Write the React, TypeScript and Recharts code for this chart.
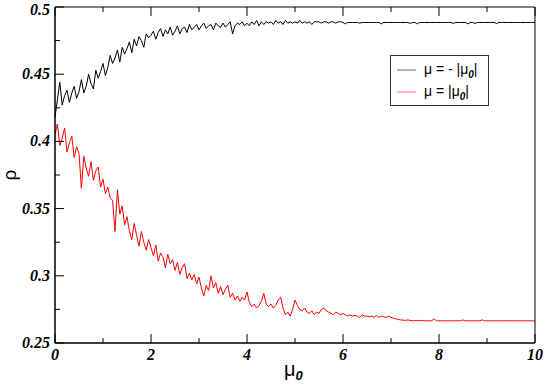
import React from 'react';
import { LineChart, Line, XAxis, YAxis } from 'recharts';

// mu_0 runs from 0 to 10 in steps of 0.05
const MU_STEP = 0.05;

// rho for mu = -|mu_0| (black)
const rhoNeg = [
  0.418, 0.431, 0.444, 0.427, 0.434, 0.438, 0.429, 0.436, 0.441, 0.432,
  0.437, 0.446, 0.436, 0.441, 0.450, 0.443, 0.439, 0.453, 0.447, 0.452,
  0.458, 0.449, 0.455, 0.464, 0.458, 0.462, 0.468, 0.459, 0.470, 0.465,
  0.469, 0.474, 0.466, 0.476, 0.471, 0.478, 0.475, 0.470, 0.480, 0.477,
  0.479, 0.482, 0.476, 0.481, 0.484, 0.478, 0.483, 0.480, 0.485, 0.479,
  0.482, 0.486, 0.480, 0.484, 0.485, 0.481, 0.487, 0.483, 0.485, 0.487,
  0.483, 0.486, 0.488, 0.484, 0.486, 0.487, 0.483, 0.488, 0.486, 0.485,
  0.488, 0.485, 0.487, 0.489, 0.480, 0.486, 0.488, 0.487, 0.489, 0.486,
  0.488, 0.486, 0.489, 0.487, 0.490, 0.486, 0.489, 0.487, 0.489, 0.488,
  0.489, 0.487, 0.490, 0.488, 0.489, 0.487, 0.490, 0.488, 0.489, 0.488,
  0.489, 0.488, 0.490, 0.488, 0.489, 0.488, 0.489, 0.487, 0.489, 0.489,
  0.489, 0.488, 0.489, 0.489, 0.488, 0.489, 0.489, 0.488, 0.489, 0.489,
  0.4885, 0.4875, 0.4885, 0.4885, 0.4885, 0.4885, 0.4885, 0.488, 0.4885, 0.4885,
  0.4885, 0.4885, 0.4885, 0.4885, 0.4885, 0.4885, 0.4875, 0.4885, 0.4885, 0.4885,
  0.4885, 0.4885, 0.4885, 0.4885, 0.4885, 0.4885, 0.4885, 0.4885, 0.4878, 0.4885,
  0.4885, 0.4875, 0.4885, 0.4885, 0.4885, 0.4885, 0.4885, 0.4885, 0.4885, 0.4885,
  0.4885, 0.4885, 0.4885, 0.4885, 0.4885, 0.4885, 0.4878, 0.4885, 0.4885, 0.4885,
  0.4885, 0.4885, 0.4875, 0.4885, 0.4885, 0.4878, 0.4885, 0.4885, 0.4885, 0.4885,
  0.4885, 0.4885, 0.4885, 0.4885, 0.4877, 0.4885, 0.4885, 0.4885, 0.4885, 0.4885,
  0.4885, 0.4885, 0.4885, 0.4885, 0.4885, 0.4885, 0.4885, 0.4885, 0.4885, 0.4885,
  0.4885,
];

// rho for mu = |mu_0| (red)
const rhoPos = [
  0.405, 0.413, 0.397, 0.402, 0.410, 0.392, 0.399, 0.404, 0.388, 0.396,
  0.391, 0.365, 0.389, 0.380, 0.374, 0.385, 0.371, 0.378, 0.381, 0.366,
  0.372, 0.361, 0.366, 0.358, 0.356, 0.333, 0.364, 0.346, 0.352, 0.338,
  0.344, 0.333, 0.327, 0.339, 0.330, 0.322, 0.333, 0.325, 0.319, 0.327,
  0.321, 0.315, 0.323, 0.311, 0.317, 0.314, 0.306, 0.316, 0.309, 0.312,
  0.304, 0.310, 0.301, 0.306, 0.309, 0.298, 0.302, 0.297, 0.301, 0.294,
  0.299, 0.291, 0.285, 0.293, 0.289, 0.300, 0.291, 0.295, 0.287, 0.292,
  0.286, 0.290, 0.293, 0.284, 0.287, 0.282, 0.285, 0.281, 0.284, 0.282,
  0.288, 0.280, 0.277, 0.279, 0.276, 0.278, 0.281, 0.287, 0.279, 0.277,
  0.279, 0.276, 0.278, 0.282, 0.284, 0.276, 0.271, 0.273, 0.270, 0.275,
  0.282, 0.278, 0.275, 0.274, 0.276, 0.273, 0.272, 0.274, 0.271, 0.273,
  0.272, 0.275, 0.276, 0.274, 0.273, 0.272, 0.271, 0.273, 0.272, 0.271,
  0.272, 0.271, 0.270, 0.271, 0.270, 0.2705, 0.270, 0.269, 0.271, 0.270,
  0.270, 0.2695, 0.270, 0.269, 0.2705, 0.269, 0.270, 0.2695, 0.269, 0.270,
  0.269, 0.2685, 0.268, 0.2675, 0.2672, 0.267, 0.2668, 0.2672, 0.2668, 0.2666,
  0.2666, 0.2668, 0.2665, 0.2667, 0.2665, 0.2666, 0.2665, 0.2666, 0.268, 0.2665,
  0.2665, 0.2665, 0.2665, 0.2665, 0.2665, 0.2665, 0.2665, 0.2665, 0.2665, 0.2665,
  0.2672, 0.2665, 0.2665, 0.2665, 0.2665, 0.2665, 0.2665, 0.2665, 0.2672, 0.2665,
  0.2665, 0.2665, 0.2665, 0.2665, 0.2665, 0.2665, 0.2665, 0.2665, 0.2665, 0.2665,
  0.2665, 0.2665, 0.2665, 0.2665, 0.2665, 0.2665, 0.2665, 0.2665, 0.2665, 0.2665,
  0.2665,
];

const xTicks = [0, 1, 2, 3, 4, 5, 6, 7, 8, 9, 10];
const yTicks = [0.25, 0.275, 0.3, 0.325, 0.35, 0.375, 0.4, 0.425, 0.45, 0.475, 0.5];

const seriesKeys = ['neg', 'pos'];
const seriesColors = ['#000000', '#ff0000'];
const legendPrefix = ['\u03bc = - |\u03bc', '\u03bc = |\u03bc'];

const data = rhoNeg.map((v, i) => ({
  mu: Math.round(i * MU_STEP * 100) / 100,
  neg: v,
  pos: rhoPos[i],
}));

const tickFont = {
  fontFamily: '"Liberation Serif", "Times New Roman", serif',
  fontWeight: 'bold' as const,
  fontStyle: 'italic' as const,
  fontSize: 16,
  fill: '#000',
};

const isMajorX = (v: number) => v % 2 === 0;
const isMajorY = (v: number) => Math.round(v * 1000) % 50 === 0;

const BottomTick = ({ x, y, payload }: any) => {
  const major = isMajorX(payload.value);
  return (
    <g>
      <line x1={x} y1={y} x2={x} y2={y - (major ? 9 : 5)} stroke="#000" />
      {major && (
        <text x={x} y={y + 17} textAnchor="middle" {...tickFont}>
          {payload.value}
        </text>
      )}
    </g>
  );
};

const TopTick = ({ x, y, payload }: any) => {
  const major = isMajorX(payload.value);
  return <line x1={x} y1={y} x2={x} y2={y + (major ? 9 : 5)} stroke="#000" />;
};

const LeftTick = ({ x, y, payload }: any) => {
  const major = isMajorY(payload.value);
  // keep the top label inside the picture
  const ty = Math.max(y + 5, 15);
  return (
    <g>
      <line x1={x} y1={y} x2={x + (major ? 9 : 5)} y2={y} stroke="#000" />
      {major && (
        <text x={x - 5} y={ty} textAnchor="end" {...tickFont}>
          {String(Number(payload.value.toFixed(3)))}
        </text>
      )}
    </g>
  );
};

const RightTick = ({ x, y, payload }: any) => {
  const major = isMajorY(payload.value);
  return <line x1={x} y1={y} x2={x - (major ? 9 : 5)} y2={y} stroke="#000" />;
};

const LegendBox = () => (
  <div
    style={{
      position: 'absolute',
      left: 390,
      top: 55,
      width: 99,
      height: 51,
      border: '1px solid #333',
      background: '#fff',
      padding: '3px 0 0 5px',
      fontFamily: '"Liberation Sans", Arial, sans-serif',
      fontSize: 14,
      boxSizing: 'border-box',
    }}
  >
    {seriesKeys.map((key, idx) => (
      <div key={key} style={{ display: 'flex', alignItems: 'center', height: 22, whiteSpace: 'nowrap' }}>
        <svg width={22} height={10} style={{ marginRight: 6 }}>
          <line x1={1} y1={5} x2={20} y2={5} stroke={seriesColors[idx]} strokeOpacity={0.6} />
        </svg>
        <span>
          {legendPrefix[idx]}
          <sub style={{ fontStyle: 'italic', fontWeight: 'bold', fontSize: 10 }}>0</sub>|
        </span>
      </div>
    ))}
  </div>
);

const App: React.FC = () => {
  return (
    <div style={{ position: 'absolute', left: 0, top: 0, width: 545, height: 384, background: '#fff' }}>
      <LineChart
        width={545}
        height={384}
        data={data}
        margin={{ top: 0, right: 5, bottom: 11, left: 5 }}
      >
        <XAxis
          xAxisId="bottom"
          dataKey="mu"
          type="number"
          domain={[0, 10]}
          ticks={xTicks}
          interval={0}
          height={30}
          tickSize={0}
          tickMargin={0}
          tickLine={false}
          tick={<BottomTick />}
          axisLine={{ stroke: '#000', strokeWidth: 1.5 }}
          label={{
            content: ({ viewBox }: any) => (
              <text
                x={viewBox.x + viewBox.width / 2 - 11}
                y={viewBox.y + 33}
                fontFamily='"Liberation Sans", Arial, sans-serif'
                fontSize={20}
              >
                {'\u03bc'}
                <tspan dy={4} fontSize={13} fontStyle="italic" fontWeight="bold">0</tspan>
              </text>
            ),
          }}
        />
        <XAxis
          xAxisId="top"
          orientation="top"
          dataKey="mu"
          type="number"
          domain={[0, 10]}
          ticks={xTicks}
          interval={0}
          height={7}
          tickSize={0}
          tickMargin={0}
          tickLine={false}
          tick={<TopTick />}
          axisLine={{ stroke: '#000', strokeWidth: 1 }}
        />
        <YAxis
          yAxisId="left"
          type="number"
          domain={[0.25, 0.5]}
          ticks={yTicks}
          interval={0}
          width={50}
          tickSize={0}
          tickMargin={0}
          tickLine={false}
          tick={<LeftTick />}
          axisLine={{ stroke: '#000', strokeWidth: 1.5 }}
          label={{
            content: ({ viewBox }: any) => (
              <text
                x={9}
                y={viewBox.y + viewBox.height / 2}
                transform={`rotate(-90 9 ${viewBox.y + viewBox.height / 2})`}
                textAnchor="middle"
                dominantBaseline="central"
                fontFamily='"Liberation Sans", Arial, sans-serif'
                fontSize={19}
              >
                {'\u03c1'}
              </text>
            ),
          }}
        />
        <YAxis
          yAxisId="right"
          orientation="right"
          type="number"
          domain={[0.25, 0.5]}
          ticks={yTicks}
          interval={0}
          width={5}
          tickSize={0}
          tickMargin={0}
          tickLine={false}
          tick={<RightTick />}
          axisLine={{ stroke: '#000', strokeWidth: 1 }}
        />
        <Line
          xAxisId="bottom"
          yAxisId="left"
          dataKey="neg"
          type="linear"
          stroke={seriesColors[0]}
          strokeWidth={1}
          dot={false}
          isAnimationActive={false}
        />
        <Line
          xAxisId="bottom"
          yAxisId="left"
          dataKey="pos"
          type="linear"
          stroke={seriesColors[1]}
          strokeWidth={1}
          dot={false}
          isAnimationActive={false}
        />
      </LineChart>
      <LegendBox />
    </div>
  );
};

export default App;
